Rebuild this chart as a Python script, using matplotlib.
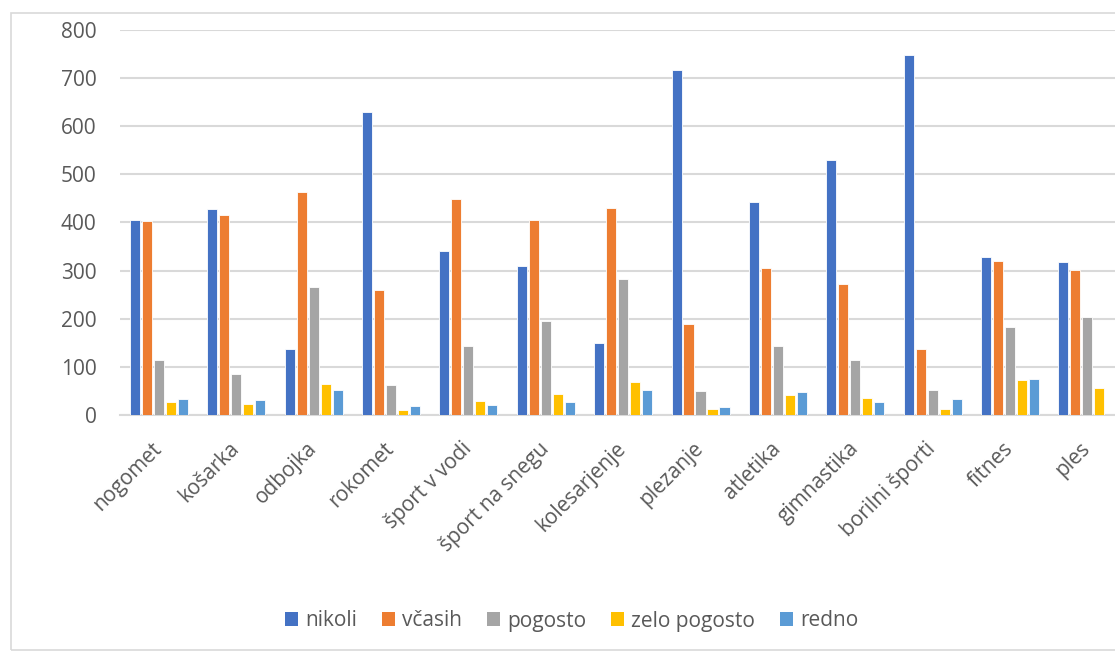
import matplotlib
matplotlib.use("Agg")
import matplotlib.pyplot as plt
from matplotlib.patches import Rectangle, Patch
import numpy as np

plt.rcParams['font.family'] = ['Open Sans', 'DejaVu Sans']

categories = ["nogomet", "košarka", "odbojka", "rokomet", "šport v vodi",
              "šport na snegu", "kolesarjenje", "plezanje", "atletika",
              "gimnastika", "borilni športi", "fitnes", "ples"]

series_names = ["nikoli", "včasih", "pogosto", "zelo pogosto", "redno"]

nikoli       = [404, 427, 138, 630, 341, 309, 149, 716, 443, 530, 747, 329, 317]
vcasih       = [402, 415, 463, 260, 449, 405, 430, 188, 305, 272, 136, 320, 301]
pogosto      = [114, 86, 266, 62, 143, 196, 282, 49, 144, 115, 52, 182, 203]
zelo_pogosto = [27, 23, 64, 11, 29, 44, 69, 13, 42, 35, 13, 73, 56]
redno        = [33, 31, 51, 19, 20, 26, 51, 16, 48, 28, 33, 75, 0]

y_ticks = [0, 100, 200, 300, 400, 500, 600, 700, 800]

colors = ["#4472C4", "#ED7D31", "#A5A5A5", "#FFC000", "#5B9BD5"]
text_color = "#595959"
grid_color = "#D9D9D9"

W, H = 1115, 653
fig = plt.figure(figsize=(W / 100, H / 100), dpi=100)

# chart area border
fig.patches.append(Rectangle((10.5 / W, 3 / H), 1.2, (H - 12.5 - 3) / H,
                             transform=fig.transFigure, fill=False,
                             edgecolor="#D9D9D9", linewidth=1.2, zorder=0))

left, right = 120.3, 1126.0
bottom, top = 415.0, 29.7
ax = fig.add_axes([left / W, (H - bottom) / H, (right - left) / W, (bottom - top) / H])

all_series = [nikoli, vcasih, pogosto, zelo_pogosto, redno]
x = np.arange(len(categories))
pitch = 0.155
bar_w = 0.13
for i, (vals, c) in enumerate(zip(all_series, colors)):
    ax.bar(x + (i - 2) * pitch, vals, width=bar_w, color=c,
           edgecolor="white", linewidth=0.6, zorder=3)

ax.set_xlim(-0.5, len(categories) - 0.5)
ax.set_ylim(0, 800)
ax.set_yticks(y_ticks)
ax.yaxis.grid(True, color=grid_color, linewidth=1.5, zorder=0)
ax.set_axisbelow(True)
for s in ["top", "right", "left"]:
    ax.spines[s].set_visible(False)
ax.spines["bottom"].set_color(grid_color)
ax.spines["bottom"].set_linewidth(1.5)
ax.tick_params(axis="both", length=0, labelcolor=text_color, labelsize=15)
ax.tick_params(axis="y", pad=17)
ax.tick_params(axis="x", pad=22)
ax.set_xticks(x)
ax.set_xticklabels(categories, rotation=45, ha="right", va="center",
                   rotation_mode="anchor")

handles = [Patch(facecolor=c, edgecolor="none") for c in colors]
fig.legend(handles, series_names, loc="center", bbox_to_anchor=(572 / W, (H - 621) / H),
           ncol=5, frameon=False, fontsize=15, labelcolor=text_color,
           handlelength=0.62, handleheight=0.62, handletextpad=0.34,
           columnspacing=1.2)

fig.savefig("out.png", dpi=100)
